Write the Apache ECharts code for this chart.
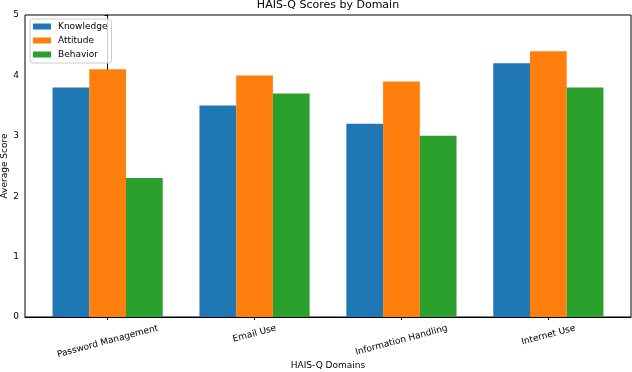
<!DOCTYPE html>
<html>
<head>
<meta charset="utf-8">
<script src="https://cdn.jsdelivr.net/npm/echarts@6/dist/echarts.min.js"></script>
<style>
html,body{margin:0;padding:0;background:#fff;}
#chart{width:632px;height:372px;}
</style>
</head>
<body>
<div id="chart"></div>
<script>
const categories = ['Password Management', 'Email Use', 'Information Handling', 'Internet Use'];
const knowledge = [3.8, 3.5, 3.2, 4.2];
const attitude = [4.1, 4.0, 3.9, 4.4];
const behavior = [2.3, 3.7, 3.0, 3.8];
const seriesNames = ['Knowledge', 'Attitude', 'Behavior'];
const yTicks = [0, 1, 2, 3, 4, 5];

const colors = ['#1f77b4', '#ff7f0e', '#2ca02c'];
const FONT = 'DejaVu Sans';
const W = 632, H = 372;
const gridL = 25, gridR = 1, gridT = 15, gridB = 55;
const gridW = W - gridL - gridR;

const barW = 0.25;
const offsets = [-barW, 0, barW];
const dataMin = -1.5 * barW, dataMax = categories.length - 1 + 1.5 * barW;
const pad = 0.05 * (dataMax - dataMin);
const xMin = dataMin - pad, xMax = dataMax + pad;
const pxPerUnit = gridW / (xMax - xMin);
const tickVals = categories.map((c, i) => i);

// label rotation padding (centre the rotated label under the tick, top-aligned)
const theta = 15 * Math.PI / 180;
const ctx = document.createElement('canvas').getContext('2d');
ctx.font = '9px "' + FONT + '"';
const rich = {};
categories.forEach((c, i) => {
  const w = ctx.measureText(c).width;
  rich['c' + i] = {
    fontSize: 9, fontFamily: FONT, color: '#000',
    padding: [w * Math.sin(theta) * Math.cos(theta), w * Math.sin(theta) * Math.sin(theta), 0, 0]
  };
});

const allSeries = [knowledge, attitude, behavior].map((vals, s) => ({
  name: seriesNames[s],
  type: 'bar',
  barWidth: barW * pxPerUnit,
  barGap: '-100%',
  itemStyle: { color: colors[s] },
  data: vals.map((v, i) => [i + offsets[s], v])
}));

const chart = echarts.init(document.getElementById('chart'), null, { renderer: 'canvas' });
chart.setOption({
  animation: false,
  color: colors,
  textStyle: { fontFamily: FONT },
  title: {
    text: 'HAIS-Q Scores by Domain',
    left: gridL + gridW / 2,
    textAlign: 'center',
    top: 0,
    padding: 0,
    textStyle: { fontSize: 11, fontWeight: 'normal', color: '#000', fontFamily: FONT, lineHeight: 11 }
  },
  legend: {
    orient: 'vertical',
    left: 30, top: 19,
    padding: [2, 4, 3, 3],
    itemWidth: 18, itemHeight: 6, itemGap: 3,
    icon: 'rect',
    borderColor: '#ccc', borderWidth: 1, borderRadius: 3,
    backgroundColor: 'rgba(255,255,255,0.8)',
    textStyle: { fontSize: 9, color: '#000', fontFamily: FONT, lineHeight: 11, padding: [0, 0, 0, 2] },
    data: seriesNames
  },
  grid: {
    left: gridL, right: gridR, top: gridT, bottom: gridB,
    show: true, borderColor: '#000', borderWidth: 1, backgroundColor: 'transparent',
    containLabel: false, outerBoundsMode: 'none'
  },
  xAxis: {
    type: 'value',
    min: xMin, max: xMax,
    name: 'HAIS-Q Domains',
    nameLocation: 'middle',
    nameGap: 44,
    nameMoveOverlap: false,
    nameTextStyle: { fontSize: 9, color: '#000', fontFamily: FONT },
    axisLine: { show: true, lineStyle: { color: '#000', width: 1 } },
    axisTick: { show: true, length: 3, lineStyle: { color: '#000' }, customValues: tickVals },
    splitLine: { show: false },
    axisLabel: {
      customValues: tickVals,
      rotate: 15,
      align: 'center',
      verticalAlign: 'middle',
      margin: 11,
      fontSize: 9, color: '#000', fontFamily: FONT,
      formatter: (v) => {
        const i = Math.round(v);
        return '{c' + i + '|' + categories[i] + '}';
      },
      rich: rich
    }
  },
  yAxis: {
    type: 'value',
    min: yTicks[0], max: yTicks[yTicks.length - 1], interval: 1,
    name: 'Average Score',
    nameLocation: 'middle',
    nameGap: 16,
    nameRotate: 90,
    nameMoveOverlap: false,
    nameTextStyle: { fontSize: 9, color: '#000', fontFamily: FONT },
    axisLine: { show: true, lineStyle: { color: '#000', width: 1 } },
    axisTick: { show: true, length: 3, lineStyle: { color: '#000' } },
    splitLine: { show: false },
    axisLabel: { fontSize: 9, color: '#000', margin: 6, fontFamily: FONT }
  },
  series: allSeries
});
</script>
</body>
</html>
